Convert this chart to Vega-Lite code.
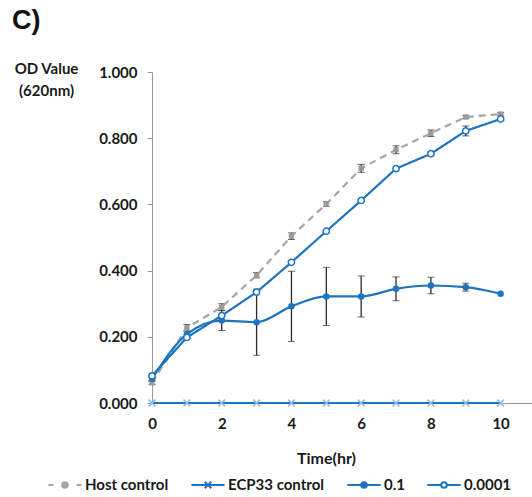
{
  "$schema": "https://vega.github.io/schema/vega-lite/v6.json",
  "autosize": "none",
  "width": 380,
  "height": 331,
  "padding": {"left": 152, "top": 72, "right": 0, "bottom": 94},
  "background": "white",
  "config": {
    "view": {"stroke": null},
    "font": "Lato",
    "axis": {"labelFont": "Lato", "labelFontWeight": "bold", "labelFontSize": 15, "labelColor": "#1a1a1a", "titleFont": "Lato", "titleFontWeight": "bold", "titleFontSize": 15, "titleColor": "#1a1a1a", "domainColor": "#9a9a9a", "tickColor": "#9a9a9a", "grid": false}
  },
  "title": {"text": "C)", "anchor": "start", "frame": "group", "orient": "top", "dx": -140, "dy": 33, "offset": 38, "baseline": "alphabetic", "font": "Liberation Sans", "fontSize": 27, "fontWeight": "bold", "color": "#111"},
  "data": {
    "values": [
      {"series": "Host control", "t": 0, "y": 0.061, "err": 0.005},
      {"series": "Host control", "t": 1, "y": 0.227, "err": 0.010},
      {"series": "Host control", "t": 2, "y": 0.290, "err": 0.010},
      {"series": "Host control", "t": 3, "y": 0.386, "err": 0.008},
      {"series": "Host control", "t": 4, "y": 0.504, "err": 0.010},
      {"series": "Host control", "t": 5, "y": 0.601, "err": 0.007},
      {"series": "Host control", "t": 6, "y": 0.709, "err": 0.012},
      {"series": "Host control", "t": 7, "y": 0.765, "err": 0.012},
      {"series": "Host control", "t": 8, "y": 0.815, "err": 0.010},
      {"series": "Host control", "t": 9, "y": 0.864, "err": 0.005},
      {"series": "Host control", "t": 10, "y": 0.873, "err": 0.004},
      {"series": "ECP33 control", "t": 0, "y": 0, "err": 0},
      {"series": "ECP33 control", "t": 1, "y": 0, "err": 0},
      {"series": "ECP33 control", "t": 2, "y": 0, "err": 0},
      {"series": "ECP33 control", "t": 3, "y": 0, "err": 0},
      {"series": "ECP33 control", "t": 4, "y": 0, "err": 0},
      {"series": "ECP33 control", "t": 5, "y": 0, "err": 0},
      {"series": "ECP33 control", "t": 6, "y": 0, "err": 0},
      {"series": "ECP33 control", "t": 7, "y": 0, "err": 0},
      {"series": "ECP33 control", "t": 8, "y": 0, "err": 0},
      {"series": "ECP33 control", "t": 9, "y": 0, "err": 0},
      {"series": "ECP33 control", "t": 10, "y": 0, "err": 0},
      {"series": "0.1", "t": 0, "y": 0.073, "err": 0.005},
      {"series": "0.1", "t": 1, "y": 0.208, "err": 0.010},
      {"series": "0.1", "t": 2, "y": 0.249, "err": 0.030},
      {"series": "0.1", "t": 3, "y": 0.244, "err": 0.100},
      {"series": "0.1", "t": 4, "y": 0.292, "err": 0.106},
      {"series": "0.1", "t": 5, "y": 0.322, "err": 0.088},
      {"series": "0.1", "t": 6, "y": 0.322, "err": 0.062},
      {"series": "0.1", "t": 7, "y": 0.345, "err": 0.036},
      {"series": "0.1", "t": 8, "y": 0.355, "err": 0.025},
      {"series": "0.1", "t": 9, "y": 0.350, "err": 0.012},
      {"series": "0.1", "t": 10, "y": 0.330, "err": 0},
      {"series": "0.0001", "t": 0, "y": 0.082, "err": 0},
      {"series": "0.0001", "t": 1, "y": 0.198, "err": 0},
      {"series": "0.0001", "t": 2, "y": 0.264, "err": 0},
      {"series": "0.0001", "t": 3, "y": 0.335, "err": 0},
      {"series": "0.0001", "t": 4, "y": 0.425, "err": 0},
      {"series": "0.0001", "t": 5, "y": 0.519, "err": 0},
      {"series": "0.0001", "t": 6, "y": 0.612, "err": 0},
      {"series": "0.0001", "t": 7, "y": 0.708, "err": 0},
      {"series": "0.0001", "t": 8, "y": 0.753, "err": 0.006},
      {"series": "0.0001", "t": 9, "y": 0.822, "err": 0.015},
      {"series": "0.0001", "t": 10, "y": 0.858, "err": 0.005}
    ]
  },
  "encoding": {
    "x": {"field": "t", "type": "quantitative", "scale": {"domain": [0, 10.9], "nice": false},
      "axis": {"values": [0, 2, 4, 6, 8, 10], "ticks": false, "labelPadding": 13, "title": "Time(hr)", "titleFontSize": 16, "titleX": 174, "titleY": 47, "titleBaseline": "top", "titleAlign": "center", "labelFlush": false}},
    "y": {"field": "y", "type": "quantitative", "scale": {"domain": [0, 1], "nice": false},
      "axis": {"values": [0, 0.2, 0.4, 0.6, 0.8, 1.0], "format": ".3f", "tickSize": 5, "labelPadding": 10, "title": ["OD Value", "(620nm)"], "titleAngle": 0, "titleAlign": "center", "titleBaseline": "top", "titleX": -106, "titleY": -11, "titleLineHeight": 22}}
  },
  "layer": [
    {
      "transform": [{"filter": "datum.err > 0"}],
      "mark": {"type": "errorbar", "ticks": {"size": 7, "color": "#2b2b2b", "strokeWidth": 1.3}, "rule": {"color": "#2b2b2b", "strokeWidth": 1.3}},
      "encoding": {"yError": {"field": "err"}, "detail": {"field": "series"}}
    },
    {
      "transform": [{"filter": "datum.series !== '0.1'"}],
      "mark": {"type": "line", "strokeWidth": 2.2},
      "encoding": {
        "color": {"field": "series", "type": "nominal",
          "scale": {"domain": ["Host control", "ECP33 control", "0.1", "0.0001"], "range": ["#a6a6a6", "#1f74bf", "#1f74bf", "#1f74bf"]},
          "legend": {
            "orient": "none", "legendX": -105, "legendY": 395, "direction": "horizontal", "title": null,
            "labelFont": "Lato", "labelFontWeight": "bold", "labelFontSize": 15, "labelColor": "#1a1a1a",
            "symbolSize": 1100, "symbolStrokeWidth": 2, "labelOffset": 2, "columnPadding": 18,
            "encode": {"symbols": {"update": {
              "shape": {"signal": "datum.value === 'Host control' ? 'M-1,0L-0.7,0M0.7,0L1,0M-0.17,0A0.17,0.17 0 1,1 0.17,0A0.17,0.17 0 1,1 -0.17,0Z' : datum.value === 'ECP33 control' ? 'M-1,0L1,0M-0.2,-0.2L0.2,0.2M-0.2,0.2L0.2,-0.2' : 'M-1,0L-0.17,0M0.17,0L1,0M-0.17,0A0.17,0.17 0 1,1 0.17,0A0.17,0.17 0 1,1 -0.17,0Z'"},
              "fill": {"signal": "datum.value === 'Host control' ? '#a6a6a6' : datum.value === '0.1' ? '#1f74bf' : datum.value === '0.0001' ? '#ffffff' : 'transparent'"},
              "fillOpacity": {"value": 1},
              "strokeDash": {"value": []},
              "strokeWidth": {"value": 2}
            }}}
          }},
        "strokeDash": {"field": "series", "type": "nominal",
          "scale": {"domain": ["Host control", "ECP33 control", "0.0001"], "range": [[7, 5], [1, 0], [1, 0]]},
          "legend": null}
      }
    },
    {
      "transform": [{"filter": "datum.series === '0.1'"}],
      "mark": {"type": "line", "strokeWidth": 2.2, "interpolate": "monotone"},
      "encoding": {"color": {"field": "series", "type": "nominal"}}
    },
    {
      "transform": [{"filter": "datum.series === 'Host control'"}],
      "mark": {"type": "point", "shape": "square", "filled": true, "color": "#9a9a9a", "opacity": 1, "size": 28}
    },
    {
      "transform": [{"filter": "datum.series === 'ECP33 control'"}],
      "mark": {"type": "point", "shape": "M-1,-1L1,1M-1,1L1,-1", "filled": false, "color": "#8dbde6", "strokeWidth": 1.5, "opacity": 1, "size": 45}
    },
    {
      "transform": [{"filter": "datum.series === '0.1'"}],
      "mark": {"type": "point", "shape": "circle", "filled": true, "color": "#1f74bf", "opacity": 1, "size": 42}
    },
    {
      "transform": [{"filter": "datum.series === '0.0001'"}],
      "mark": {"type": "point", "shape": "circle", "fill": "#ffffff", "stroke": "#1f74bf", "strokeWidth": 1.5, "opacity": 1, "size": 40}
    }
  ]
}
